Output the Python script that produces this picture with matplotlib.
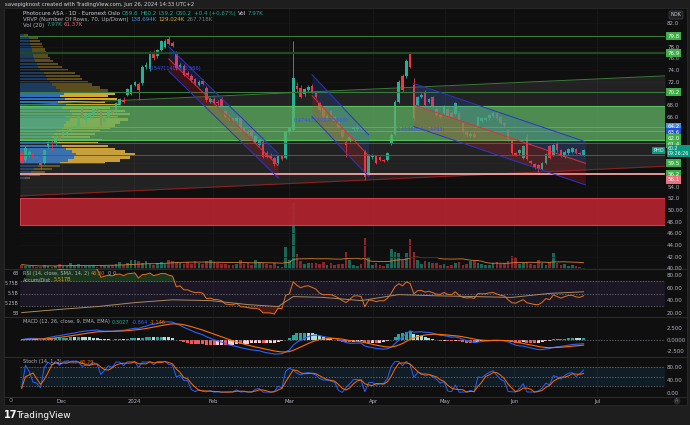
import numpy as np
import pandas as pd
import matplotlib
matplotlib.use("Agg")
import matplotlib.pyplot as plt
from matplotlib.patches import Rectangle
from matplotlib.lines import Line2D
import matplotlib.transforms as mtrans

# ---------------- data ----------------
opens = [59.7, 58.6, 59.4, 59.6, 59.1, 58.0, 58.1, 60.8, 61.7, 61.4,
         62.7, 62.6, 62.9, 63.7, 64.0, 64.3, 67.4, 65.4, 65.9, 66.3,
         67.3, 67.0, 65.1, 66.0, 66.9, 66.9, 68.2, 68.9, 69.7, 69.9,
         71.4, 71.6, 71.8, 74.6, 74.1, 77.0, 76.4, 77.4, 77.9, 79.4,
         78.6, 77.0, 74.6, 74.7, 73.5, 73.0, 72.4, 71.4, 72.1, 71.0,
         68.6, 69.0, 68.5, 69.1, 66.9, 66.0, 65.7, 65.2, 65.7, 64.0,
         63.6, 63.7, 61.7, 61.1, 61.7, 59.8, 59.4, 58.9, 58.1, 59.2,
         58.9, 63.4, 63.7, 71.3, 71.0, 69.9, 70.5, 71.3, 70.0, 68.4,
         67.5, 65.8, 66.9, 66.0, 65.1, 63.7, 61.7, 61.9, 63.8, 63.9,
         64.2, 59.9, 56.3, 59.1, 59.3, 59.0, 58.6, 58.6, 61.5, 63.1,
         68.6, 73.0, 72.9, 76.9, 71.4, 68.0, 69.4, 70.3, 68.5, 69.3,
         67.4, 66.3, 66.6, 67.3, 66.7, 66.5, 66.7, 64.9, 63.4, 62.7,
         63.1, 64.3, 65.3, 65.4, 65.7, 66.1, 66.7, 65.9, 64.9, 63.7,
         62.0, 59.8, 59.7, 58.9, 62.5, 58.4, 57.9, 57.7, 57.0, 58.0,
         60.9, 59.4, 61.5, 60.3, 59.1, 59.7, 60.0, 60.4, 59.8, 59.5]
highs = [60.1, 61.0, 60.3, 59.9, 59.4, 58.2, 60.4, 61.9, 62.0, 62.8,
         62.9, 63.5, 63.9, 64.5, 64.6, 66.3, 67.8, 66.5, 66.7, 67.5,
         67.6, 67.3, 66.1, 67.1, 67.3, 68.6, 69.2, 69.3, 70.9, 71.6,
         72.2, 71.9, 74.9, 75.3, 77.2, 77.5, 77.6, 79.2, 79.3, 79.8,
         78.9, 77.3, 75.2, 75.0, 73.8, 73.3, 72.6, 72.3, 72.4, 71.2,
         69.4, 69.3, 68.8, 69.3, 67.2, 66.4, 66.0, 66.1, 65.9, 64.3,
         63.9, 63.9, 62.8, 62.2, 62.0, 60.1, 59.7, 59.1, 59.5, 59.4,
         63.6, 64.3, 78.9, 72.0, 71.4, 70.9, 71.4, 71.6, 70.3, 68.6,
         67.8, 66.4, 67.1, 66.2, 65.4, 63.9, 62.0, 62.8, 64.4, 64.5,
         64.4, 60.2, 59.6, 59.6, 59.5, 59.2, 58.8, 60.0, 63.2, 68.9,
         72.3, 73.4, 75.9, 77.1, 72.7, 69.6, 70.0, 70.6, 69.2, 69.5,
         67.6, 66.6, 68.0, 67.5, 66.9, 68.5, 66.9, 65.1, 63.6, 63.3,
         63.3, 66.1, 65.9, 66.0, 66.5, 66.8, 66.9, 66.1, 65.1, 63.9,
         62.2, 60.0, 60.4, 61.2, 63.0, 58.6, 58.1, 57.9, 58.2, 59.8,
         61.1, 61.3, 61.7, 60.5, 60.2, 60.7, 60.8, 60.6, 60.0, 60.4]
lows = [58.0, 58.4, 59.0, 58.8, 58.7, 57.1, 57.9, 60.6, 60.3, 61.2,
        61.9, 62.4, 62.7, 63.4, 63.8, 64.1, 65.8, 65.0, 65.6, 66.1,
        66.5, 64.2, 64.9, 65.8, 66.5, 66.7, 68.0, 68.3, 69.5, 69.7,
        71.2, 68.9, 71.5, 74.2, 73.9, 75.8, 76.0, 77.2, 77.7, 78.3,
        78.0, 74.0, 74.3, 72.9, 72.9, 72.0, 71.5, 71.2, 71.4, 68.6,
        68.3, 68.2, 68.0, 67.6, 65.7, 65.4, 65.0, 65.0, 63.5, 63.2,
        62.8, 62.4, 61.5, 60.9, 58.9, 58.9, 58.7, 57.5, 57.9, 58.6,
        58.7, 63.1, 63.5, 70.3, 69.2, 69.6, 70.2, 70.1, 69.2, 66.9,
        65.8, 65.5, 65.9, 65.1, 64.1, 62.3, 59.0, 61.6, 63.5, 63.6,
        63.7, 55.2, 56.0, 58.8, 57.8, 58.4, 58.2, 58.4, 61.2, 62.9,
        68.4, 70.2, 72.6, 74.3, 65.5, 67.8, 69.2, 67.8, 68.3, 67.5,
        66.1, 65.8, 66.4, 65.9, 65.7, 66.3, 65.2, 63.2, 62.7, 62.5,
        62.3, 64.1, 65.1, 65.2, 65.5, 65.9, 65.5, 64.7, 64.3, 61.9,
        59.5, 59.2, 59.5, 58.7, 58.5, 57.8, 57.1, 56.5, 56.8, 57.8,
        58.7, 59.2, 60.0, 59.1, 58.9, 59.5, 59.8, 59.6, 59.4, 59.3]
closes = [58.3, 60.6, 60.0, 59.0, 58.9, 57.7, 60.2, 61.7, 61.4, 62.7,
          62.1, 63.3, 63.7, 64.3, 64.4, 66.0, 66.0, 66.3, 66.5, 67.3,
          67.0, 64.6, 65.9, 66.9, 66.7, 68.4, 69.0, 68.5, 70.7, 71.4,
          72.0, 70.5, 74.6, 74.9, 76.9, 76.0, 77.4, 79.0, 79.0, 78.5,
          78.2, 74.3, 74.9, 73.1, 73.1, 72.3, 71.8, 72.0, 71.6, 68.9,
          69.1, 68.4, 68.3, 67.8, 65.9, 65.6, 65.3, 65.8, 63.7, 63.5,
          63.0, 62.6, 62.6, 62.0, 59.1, 59.1, 58.9, 57.9, 59.3, 58.8,
          63.3, 64.0, 72.6, 70.7, 69.4, 70.7, 71.1, 70.3, 69.4, 67.1,
          66.0, 66.2, 66.1, 65.3, 64.3, 62.5, 61.1, 62.5, 64.2, 64.3,
          63.9, 55.7, 59.4, 59.3, 58.0, 58.6, 58.4, 59.8, 62.9, 68.6,
          72.0, 70.6, 75.6, 74.6, 65.7, 69.4, 69.7, 68.0, 69.0, 67.7,
          66.3, 66.0, 67.8, 66.1, 65.9, 68.3, 65.4, 63.4, 62.9, 63.1,
          62.5, 65.9, 65.7, 65.8, 66.3, 66.6, 65.7, 64.9, 64.5, 62.1,
          59.7, 59.4, 60.2, 61.0, 58.7, 58.0, 57.3, 57.1, 58.0, 59.6,
          58.9, 61.1, 60.2, 59.3, 60.0, 60.5, 60.6, 59.8, 59.6, 60.2]
volumes_k = [45, 35, 30, 30, 25, 20, 40, 30, 25, 30,
             55, 35, 30, 60, 40, 55, 35, 30, 35, 40,
             25, 45, 30, 35, 40, 50, 75, 45, 60, 90,
             95, 80, 60, 85, 55, 45, 60, 70, 55, 95,
             85, 75, 60, 55, 70, 50, 85, 60, 55, 80,
             90, 75, 60, 50, 55, 45, 40, 50, 90, 55,
             60, 45, 95, 70, 60, 55, 45, 60, 30, 25,
             220, 95, 660, 150, 80, 50, 65, 60, 60, 55,
             70, 45, 60, 40, 50, 55, 167, 95, 40, 30,
             55, 307, 120, 45, 65, 40, 30, 50, 200, 175,
             157, 90, 157, 300, 175, 90, 55, 80, 70, 65,
             60, 45, 50, 35, 40, 60, 70, 45, 55, 80,
             85, 60, 50, 45, 40, 65, 70, 55, 60, 80,
             130, 117, 50, 60, 75, 55, 45, 90, 60, 45,
             70, 157, 60, 40, 55, 35, 45, 30, 25, 8]

month_tick_bars = [10.6, 29.8, 50.7, 70.9, 93.2, 112.3, 130.6, 152.6]
month_tick_labels = ["Dec", "2024", "Feb", "Mar", "Apr", "May", "Jun", "Jul"]

# visible range volume profile (rows)
prof_price = [80.0, 79.5, 79.0, 78.5, 78.0, 77.5, 77.0, 76.5, 76.0, 75.5,
              75.0, 74.5, 74.0, 73.5, 73.0, 72.5, 72.0, 71.5, 71.0, 70.5,
              70.0, 69.5, 69.0, 68.5, 68.0, 67.5, 67.0, 66.5, 66.0, 65.5,
              65.0, 64.5, 64.0, 63.5, 63.0, 62.5, 62.0, 61.5, 61.0, 60.5,
              60.0, 59.5, 59.0, 58.5, 58.0, 57.5, 57.0, 56.5, 56.0, 55.5]
prof_up = [4, 9, 10, 10, 11, 12, 12, 13, 14, 15,
           17, 18, 20, 24, 26, 27, 30, 32, 36, 40,
           44, 40, 45, 38, 46, 42, 50, 52, 45, 50,
           46, 44, 42, 36, 34, 32, 38, 36, 42, 46,
           52, 56, 54, 48, 40, 18, 14, 11, 9, 5]
prof_down = [4, 9, 10, 12, 12, 13, 14, 15, 16, 18,
             21, 24, 28, 31, 34, 35, 38, 40, 44, 48,
             51, 48, 52, 47, 54, 48, 55, 58, 53, 58,
             54, 51, 48, 44, 41, 38, 44, 42, 46, 49,
             53, 59, 56, 52, 45, 22, 18, 14, 11, 5]
value_area = (58.0, 70.0)

# drawn levels / zones
level_lines = [79.8, 76.9, 70.2, 61.4, 59.5]
green_zone = (62.0, 67.8)
blue_lines = [64.2, 63.6]
pink_line = 56.2
red_zone = (47.5, 52.0)
# rising grey channel: [x0, x1], upper [p0, p1], lower [p0, p1]
grey_x = [-0.45, 170.6]
grey_upper = [68.0, 73.0]
grey_lower = [52.4, 57.5]
# regression trend channels
chan_x0 = [39, 77, 104]
chan_x1 = [68, 92, 149.5]
chan_mid0 = [75.9, 69.6, 68.0]
chan_mid1 = [57.6, 59.3, 58.0]
chan_dev = [2.1, 3.6, 3.7]
chan_text = ["0.547114098(0.566)", "0.474432899(0.5669)", "0.4596037(0.4793)"]
chan_text_pos = [(34, 74.2), (72, 65.3), (99.5, 63.8)]

# accumulation / distribution (billions) read at anchor bars
ad_bars = [0, 10, 20, 30, 40, 50, 60, 68, 72, 80, 90, 100, 110, 120, 130, 140, 149]
ad_vals = [5.0, 5.08, 5.15, 5.25, 5.32, 5.30, 5.20, 5.15, 5.40, 5.38, 5.30, 5.45, 5.42, 5.40, 5.38, 5.48, 5.52]

# price axis labels
ytick_vals = [82, 78, 76, 74, 72, 68, 66, 58, 54, 52, 50, 48, 46, 44, 42, 40]
ytick_txt = ["82.0", "78.0", "76.0", "74.0", "72.0", "68.0", "66.0", "58.0", "54.0",
             "52.0", "50.00", "48.00", "46.00", "44.00", "42.00", "40.00"]
box_txt = ["79.8", "76.9", "70.2", "64.2", "63.6", "62.0", "61.4", "59.5", "56.2", "56.1"]
box_col = ["#3fae49", "#3fae49", "#3fae49", "#4a8fe0", "#1f4fd6", "#3fae49", "#3fae49",
           "#3fae49", "#3fae49", "#f07080"]
box_pos = [79.8, 76.9, 70.2, 64.23, 63.32, 62.29, 61.31, 58.05, 56.1, 55.14]

# ---------------- derived ----------------
o = np.array(opens); h = np.array(highs); l = np.array(lows); c = np.array(closes)
v = np.array(volumes_k, dtype=float)
n = len(c)
xi = np.arange(n)
up = c >= o
UP = "#26b094"; DN = "#f23645"
cs = pd.Series(c)

d = cs.diff()
g = d.clip(lower=0).ewm(alpha=1/14, adjust=False).mean()
ls = (-d.clip(upper=0)).ewm(alpha=1/14, adjust=False).mean()
rsi = (100 - 100 / (1 + g / ls)).values

ema12 = cs.ewm(span=12, adjust=False).mean()
ema26 = cs.ewm(span=26, adjust=False).mean()
macd = (ema12 - ema26)
sig = macd.ewm(span=9, adjust=False).mean()
hist = (macd - sig).values
macd = macd.values; sig = sig.values

ll = pd.Series(l).rolling(14, min_periods=1).min()
hh = pd.Series(h).rolling(14, min_periods=1).max()
k = (100 * (cs - ll) / (hh - ll)).values
dd = pd.Series(k).rolling(3, min_periods=1).mean().values

vma = pd.Series(v).rolling(20, min_periods=1).mean().values

# ---------------- figure ----------------
W, H = 690, 425
fig = plt.figure(figsize=(W / 100, H / 100), dpi=100)
fig.patch.set_facecolor("#1e1e1e")
BG = "#0f0f0f"
TXT = "#b2b5be"
fig.patches.append(Rectangle((4 / W, 1 - 405 / H), 683 / W, 397 / H, transform=fig.transFigure,
                             facecolor=BG, edgecolor="#2a2a2a", lw=0.6, zorder=0))
for yy in [269, 317, 357, 397]:
    fig.add_artist(Line2D([4 / W, 687 / W], [1 - yy / H] * 2, color="#2a2a2a", lw=0.8))

XL = (-0.45, 170.6)


def add_ax(y0, y1, z):
    a = fig.add_axes([20 / W, 1 - y1 / H, 645 / W, (y1 - y0) / H])
    a.set_zorder(z)
    a.patch.set_alpha(0)
    for s in a.spines.values():
        s.set_visible(False)
    a.set_xlim(*XL)
    a.tick_params(length=0, labelsize=4, colors=TXT, pad=1.5)
    a.set_xticks([])
    return a


PLO, PHI = 39.87, 84.47

# volume (lowest layer)
axv = add_ax(9, 269, 1)
axv.set_ylim(0, 2600)
axv.set_yticks([])
for xm in month_tick_bars:
    axv.axvline(xm, color="#1a1a1a", lw=0.6, zorder=0)
axv.bar(xi, v, width=0.7, color=np.where(up, UP, DN), alpha=0.55, zorder=2)
axv.plot(xi, vma, color="#d9822b", lw=0.6, zorder=3)

# volume profile
axp = add_ax(9, 269, 2)
axp.set_ylim(PLO, PHI)
axp.set_xlim(0, 645)
axp.set_yticks([])
pp = np.array(prof_price)
inva = (pp >= value_area[0]) & (pp <= value_area[1])
axp.barh(pp, prof_up, height=0.4, color=np.where(inva, "#2f6fba", "#1d3a5f"))
axp.barh(pp, prof_down, left=prof_up, height=0.4, color=np.where(inva, "#d6a72e", "#5e4d1c"))

# main price pane
ax = add_ax(9, 269, 3)
ax.set_ylim(PLO, PHI)
for yv in ytick_vals:
    ax.axhline(yv, color="#161616", lw=0.5, zorder=0)
ax.fill_between(grey_x, grey_lower, grey_upper, color="#808080", alpha=0.17, lw=0, zorder=1)
ax.plot(grey_x, grey_upper, color="#3d7a3d", lw=0.7, zorder=1.5)
ax.plot(grey_x, grey_lower, color="#8b2020", lw=0.8, zorder=1.5)
ax.add_patch(Rectangle((XL[0], red_zone[0]), XL[1] - XL[0], red_zone[1] - red_zone[0],
                       facecolor="#b3242f", alpha=0.92, edgecolor="#e0404d", lw=0.8, zorder=2))

# candles
ax.vlines(xi, l, h, color=np.where(up, UP, DN), lw=0.6, zorder=3)
ax.bar(xi, np.maximum(np.abs(c - o), 0.1), bottom=np.minimum(o, c), width=0.7,
       color=np.where(up, UP, DN), zorder=3.1)

# zones and lines over candles
ax.add_patch(Rectangle((XL[0], green_zone[0]), XL[1] - XL[0], green_zone[1] - green_zone[0],
                       facecolor="#5fb463", alpha=0.72, edgecolor="none", zorder=4))
ax.axhline(green_zone[1], color="#58c05c", lw=0.8, zorder=4.5)
ax.axhline(green_zone[0], color="#58c05c", lw=0.8, zorder=4.5)
for lv, lw_, col in zip(level_lines, [0.8, 1.6, 0.8, 0.7, 0.7],
                        ["#3a7a3a", "#1f4a1f", "#3a7a3a", "#3d6a3d", "#3d6a3d"]):
    ax.axhline(lv, color=col, lw=lw_, zorder=4.5)
for bl in blue_lines:
    ax.axhline(bl, color="#5b9bd5", lw=0.7, alpha=0.9, zorder=4.5)
ax.axhline(pink_line, color="#f6a3a3", lw=1.3, zorder=4.5)

for x0, x1, m0, m1, dv in zip(chan_x0, chan_x1, chan_mid0, chan_mid1, chan_dev):
    xs = [x0, x1]
    mid = np.array([m0, m1])
    ax.fill_between(xs, mid, mid + dv, color="#2962ff", alpha=0.16, lw=0, zorder=5)
    ax.fill_between(xs, mid - dv, mid, color="#e5242f", alpha=0.2, lw=0, zorder=5)
    ax.plot(xs, mid + dv, color="#2a35c8", lw=0.7, zorder=5.5)
    ax.plot(xs, mid - dv, color="#2a35c8", lw=0.7, zorder=5.5)
    ax.plot(xs, mid, color="#e0303a", lw=0.7, zorder=5.5)
for t, (tx, ty) in zip(chan_text, chan_text_pos):
    ax.text(tx, ty, t, color="#3f4fff", fontsize=3.6, va="center", ha="left", zorder=6)

ax.yaxis.tick_right()
ax.set_yticks(ytick_vals)
ax.set_yticklabels(ytick_txt)
bt = mtrans.blended_transform_factory(ax.transAxes, ax.transData)
for tx, col, pos in zip(box_txt, box_col, box_pos):
    ax.text(1.004, pos, tx, transform=bt, fontsize=4, color="white", ha="left", va="center",
            zorder=8, clip_on=False,
            bbox=dict(boxstyle="square,pad=0.25", fc=col, ec="none"))
ax.text(1.004, 60.15, "60.2\n09:26:26", transform=bt, fontsize=3.4, color="white", ha="left",
        va="center", zorder=9, clip_on=False, linespacing=0.95,
        bbox=dict(boxstyle="square,pad=0.2", fc="#089981", ec="none"))
ax.text(0.998, 60.2, "PHO", transform=bt, fontsize=3.6, color="white", ha="right",
        va="center", zorder=9, clip_on=False,
        bbox=dict(boxstyle="square,pad=0.25", fc="#089981", ec="none"))

# RSI pane
axr = add_ax(269, 317, 3)
axr.set_ylim(13.2, 89.5)
axr.axhspan(30, 70, color="#7e57c2", alpha=0.12, lw=0)
for lv in [70, 50, 30]:
    axr.axhline(lv, color="#787b86", lw=0.5, ls=(0, (2, 2)))
axr.fill_between(xi, 70, rsi, where=rsi > 70, color="#2e7d32", alpha=0.35, lw=0, interpolate=True)
axr.fill_between(xi, 30, rsi, where=rsi < 30, color="#c62828", alpha=0.35, lw=0, interpolate=True)
axr.plot(xi, rsi, color="#e8731c", lw=0.7)
axa = axr.twinx()
axa.set_zorder(3.5)
axa.patch.set_alpha(0)
for s in axa.spines.values():
    s.set_visible(False)
axa.set_xlim(*XL)
axa.set_ylim(4.89, 6.09)
axa.plot(ad_bars, ad_vals, color="#a88c5c", lw=0.7)
axa.yaxis.tick_left()
axa.set_yticks([6.0, 5.75, 5.5, 5.25, 5.0])
axa.set_yticklabels(["6B", "5.75B", "5.5B", "5.25B", "5B"])
axa.tick_params(length=0, labelsize=3.4, colors=TXT, pad=1.0)
axr.yaxis.tick_right()
axr.set_yticks([80, 60, 40, 20])
axr.set_yticklabels(["80.00", "60.00", "40.00", "20.00"])
axr.tick_params(axis="y", length=0, labelsize=4, colors=TXT, pad=1.5, labelleft=False, labelright=True)

# MACD pane
axm = add_ax(317, 357, 3)
axm.set_ylim(-3.76, 4.93)
axm.axhline(0, color="#787b86", lw=0.5, ls=(0, (2, 2)))
hc = []
for i in range(n):
    prev = hist[i - 1] if i > 0 else 0
    if hist[i] >= 0:
        hc.append("#26a69a" if hist[i] >= prev else "#b2dfdb")
    else:
        hc.append("#ff5252" if hist[i] < prev else "#ffcdd2")
axm.bar(xi, hist, width=0.8, color=hc)
axm.plot(xi, macd, color="#2962ff", lw=0.8)
axm.plot(xi, sig, color="#ff6d00", lw=0.8)
axm.yaxis.tick_right()
axm.set_yticks([2.5, 0, -2.5])
axm.set_yticklabels(["2.500", "0.0000", "-2.500"])

# Stoch pane
axs = add_ax(357, 397, 3)
axs.set_ylim(-13.5, 112.4)
axs.axhspan(20, 80, color="#2196f3", alpha=0.1, lw=0)
for lv in [80, 50, 20]:
    axs.axhline(lv, color="#787b86", lw=0.5, ls=(0, (2, 2)))
axs.plot(xi, k, color="#2962ff", lw=0.7)
axs.plot(xi, dd, color="#ff6d00", lw=0.7)
axs.yaxis.tick_right()
axs.set_yticks([80, 40, 0])
axs.set_yticklabels(["80.00", "40.00", "0.00"])
axs.set_xticks(month_tick_bars)
axs.set_xticklabels(month_tick_labels)
axs.tick_params(axis="x", length=0, pad=1.2, labelsize=3.8)

for a in [axr, axm, axs]:
    for xm in month_tick_bars:
        a.axvline(xm, color="#1a1a1a", lw=0.6, zorder=0)

# ---------------- texts ----------------
rend = fig.canvas.get_renderer()


def rich(x_px, y_px, parts, size=4.0):
    x = x_px
    for s, col in parts:
        t = fig.text(x / W, 1 - y_px / H, s, color=col, fontsize=size, ha="left", va="center")
        x += t.get_window_extent(renderer=rend).width + 2


rich(5, 4.5, [("savepigknost created with TradingView.com, Jun 26, 2024 14:33 UTC+2", "#d1d4dc")], 3.8)
TEAL = "#22ab94"
rich(23, 13.5, [("Photocure ASA · 1D · Euronext Oslo", "#d1d4dc"), ("O59.6", TEAL), ("H60.2", TEAL),
                ("L59.2", TEAL), ("C60.2", TEAL), ("+0.4 (+0.67%)", TEAL), ("Vol", "#d1d4dc"), ("7.97K", TEAL)])
rich(23, 19.5, [("VRVP (Number Of Rows, 70, Up/Down)", TXT), ("138.694K", "#4a8fe0"),
                ("129.024K", "#e0b030"), ("267.718K", "#787b86")])
rich(23, 25.0, [("Vol (20)", TXT), ("7.97K", TEAL), ("61.37K", "#f06070")])
rich(23, 273.5, [("RSI (14, close, SMA, 14, 2)", TXT), ("46.30", "#e8731c"), ("0", TXT), ("0", TXT)], 3.6)
rich(23, 279.5, [("Accum/Dist", TXT), ("5.517B", "#e0a030")], 3.6)
rich(23, 322, [("MACD (12, 26, close, 9, EMA, EMA)", TXT), ("0.3027", TEAL), ("-0.864", "#2962ff"),
               ("-1.146", "#ff6d00")], 3.6)
rich(23, 362, [("Stoch (14, 1, 3)", TXT), ("67.92", "#2962ff"), ("60.79", "#ff6d00")], 3.6)

fig.text(676 / W, 1 - 15 / H, "NOK", color="#d1d4dc", fontsize=3.6, ha="center", va="center",
         bbox=dict(boxstyle="round,pad=0.3", fc="#1e1e1e", ec="#434651", lw=0.5))
fig.text(11 / W, 1 - 401 / H, "⊙", color="#787b86", fontsize=4, ha="center", va="center")
fig.text(677 / W, 1 - 401 / H, "A", color="#787b86", fontsize=3.4, ha="center", va="center",
         bbox=dict(boxstyle="circle,pad=0.2", fc="#2a2a2a", ec="none"))
fig.text(4 / W, 1 - 415 / H, "17", color="white", fontsize=7, fontweight="bold", ha="left", va="center")
fig.text(16 / W, 1 - 415 / H, "TradingView", color="white", fontsize=6.5, ha="left", va="center")

fig.savefig("out.png", dpi=100, facecolor=fig.get_facecolor())
